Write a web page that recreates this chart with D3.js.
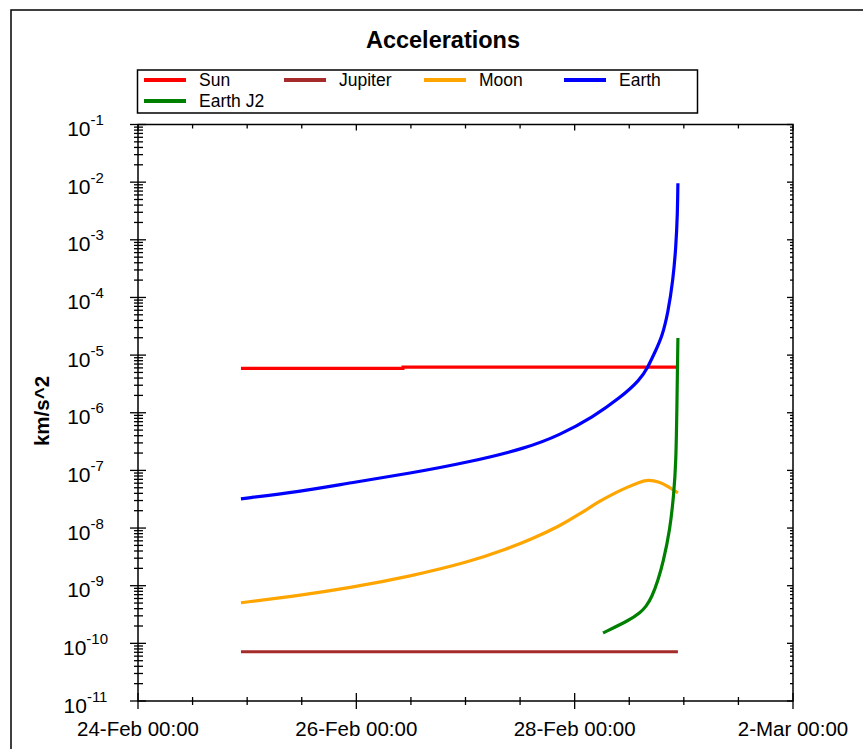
<!DOCTYPE html>
<html lang="en">
<head>
    <meta charset="UTF-8">
    <title>Accelerations</title>
    <script src="https://d3js.org/d3.v7.min.js"></script>
    <style>
        body { margin: 0; background: #fff; }
        text { font-family: "Liberation Sans", Arial, sans-serif; fill: #000; }
    </style>
</head>
<body>
    <div id="graph"></div>
    <script>
        // series names + colours (legend order)
        const seriesNames = ["Sun", "Jupiter", "Moon", "Earth", "Earth J2"]
        const seriesColors = ["#ff0000", "#a52a2a", "#ffa500", "#0000ff", "#008000"]

        // values (UTC times, km/s^2)
        const sunTimes = ["2023-02-24T22:38", "2023-02-26T10:15", "2023-02-26T10:16", "2023-02-28T22:42"]
        const sunValues = [5.9e-6, 5.9e-6, 6.2e-6, 6.2e-6]

        const jupiterTimes = ["2023-02-24T22:38", "2023-02-28T22:42"]
        const jupiterValues = [7.15e-11, 7.15e-11]

        const moonTimes = ["2023-02-24T22:38", "2023-02-25T11:37", "2023-02-25T22:36", "2023-02-26T11:48",
            "2023-02-27T00:59", "2023-02-27T09:07", "2023-02-27T14:11", "2023-02-27T20:46",
            "2023-02-28T01:10", "2023-02-28T05:34", "2023-02-28T08:52", "2023-02-28T11:30",
            "2023-02-28T14:21", "2023-02-28T16:08", "2023-02-28T18:45", "2023-02-28T20:18",
            "2023-02-28T22:42"]
        const moonValues = [5.06e-10, 6.8e-10, 9.2e-10, 1.45e-9, 2.6e-9, 4.36e-9, 6.24e-9, 1.09e-8,
            1.76e-8, 2.96e-8, 4.07e-8, 5.07e-8, 6.32e-8, 6.95e-8, 6.3e-8, 5.38e-8, 4.07e-8]

        const earthTimes = ["2023-02-24T22:38", "2023-02-25T11:37", "2023-02-25T22:36", "2023-02-26T11:48",
            "2023-02-27T00:59", "2023-02-27T13:31", "2023-02-27T20:46", "2023-02-28T04:02",
            "2023-02-28T09:58", "2023-02-28T14:21", "2023-02-28T16:08", "2023-02-28T17:39",
            "2023-02-28T19:12", "2023-02-28T20:31", "2023-02-28T21:37", "2023-02-28T22:16",
            "2023-02-28T22:36", "2023-02-28T22:41", "2023-02-28T22:42"]
        const earthValues = [3.21e-8, 4.3e-8, 6.07e-8, 8.9e-8, 1.40e-7, 2.45e-7, 4.12e-7, 8.45e-7,
            1.81e-6, 3.70e-6, 6.22e-6, 1.13e-5, 2.06e-5, 5.37e-5, 2.0e-4, 7.5e-4, 2.9e-3, 8.5e-3, 9.6e-3]

        const j2Times = ["2023-02-28T06:14", "2023-02-28T06:30", "2023-02-28T12:10", "2023-02-28T14:21",
            "2023-02-28T15:41", "2023-02-28T17:00", "2023-02-28T18:19", "2023-02-28T19:25",
            "2023-02-28T20:58", "2023-02-28T21:49", "2023-02-28T22:16", "2023-02-28T22:29",
            "2023-02-28T22:40", "2023-02-28T22:42"]
        const j2Values = [1.52e-10, 1.55e-10, 2.56e-10, 3.39e-10, 4.31e-10, 6.41e-10, 1.24e-9, 2.49e-9,
            9.3e-9, 4.07e-8, 1.35e-7, 1.26e-6, 1.4e-5, 1.98e-5]

        // axis ticks
        const xDomain = ["2023-02-24T00:00", "2023-03-02T00:00"]
        const xMajorTicks = ["2023-02-24T00:00", "2023-02-26T00:00", "2023-02-28T00:00", "2023-03-02T00:00"]
        const yExponents = [-11, -10, -9, -8, -7, -6, -5, -4, -3, -2, -1]

        const parse = s => new Date(s + "Z")
        const series = [
            {times: sunTimes, values: sunValues},
            {times: jupiterTimes, values: jupiterValues},
            {times: moonTimes, values: moonValues},
            {times: earthTimes, values: earthValues},
            {times: j2Times, values: j2Values}
        ].map((s, i) => ({
            name: seriesNames[i],
            color: seriesColors[i],
            points: s.times.map((t, k) => ({t: parse(t), v: s.values[k]}))
        }))

        const width = 863, height = 749
        const plot = {left: 138, right: 793, top: 124.5, bottom: 701}

        var svg = d3.select("#graph").append("svg")
            .attr("width", width)
            .attr("height", height)

        // outer frame
        svg.append("rect")
            .attr("x", 11).attr("y", 10)
            .attr("width", 870).attr("height", 800)
            .attr("fill", "none").attr("stroke", "#000").attr("stroke-width", 1.5)

        svg.append("text")
            .attr("x", 443).attr("y", 48)
            .attr("text-anchor", "middle")
            .style("font-size", "23.5px").style("font-weight", "bold")
            .text("Accelerations")

        var x = d3.scaleUtc()
            .domain(xDomain.map(parse))
            .range([plot.left, plot.right])

        var y = d3.scaleLog()
            .domain([Math.pow(10, yExponents[0]), Math.pow(10, yExponents[yExponents.length - 1])])
            .range([plot.bottom, plot.top])

        // data lines (flat ones straight, the rest smoothed)
        var straight = d3.line().x(d => x(d.t)).y(d => y(d.v))
        var smooth = d3.line().x(d => x(d.t)).y(d => y(d.v))
            .curve(d3.curveBasis)

        svg.append("g").selectAll("path")
            .data(series)
            .enter()
            .append("path")
                .attr("d", (d, i) => (i < 2 ? straight : smooth)(d.points))
                .attr("fill", "none")
                .attr("stroke", d => d.color)
                .attr("stroke-width", 3.2)

        // plot box
        svg.append("rect")
            .attr("x", plot.left).attr("y", plot.top)
            .attr("width", plot.right - plot.left).attr("height", plot.bottom - plot.top)
            .attr("fill", "none").attr("stroke", "#000").attr("stroke-width", 1.5)

        var ax = svg.append("g").attr("stroke", "#000").attr("stroke-width", 1.3)

        // x ticks: minor every 12h, major every 2 days
        var xMinor = d3.utcHour.every(12).range(x.domain()[0], new Date(+x.domain()[1] + 1))
        xMinor.forEach(d => {
            var major = xMajorTicks.some(m => +parse(m) === +d)
            var len = major ? 8 : 4
            ax.append("line")
                .attr("x1", x(d)).attr("x2", x(d))
                .attr("y1", plot.bottom - len).attr("y2", plot.bottom + (major ? 8 : 4))
            ax.append("line")
                .attr("x1", x(d)).attr("x2", x(d))
                .attr("y1", plot.top).attr("y2", plot.top + (major ? 6 : 4))
        })

        var fmt = d3.utcFormat("%-d-%b %H:%M")
        svg.append("g").selectAll("text")
            .data(xMajorTicks.map(parse))
            .enter()
            .append("text")
                .attr("x", d => x(d))
                .attr("y", 736)
                .attr("text-anchor", "middle")
                .style("font-size", "20.5px")
                .text(d => fmt(d))

        // y ticks: decades + 2..9 minors
        yExponents.forEach((e, i) => {
            var v = Math.pow(10, e)
            ax.append("line")
                .attr("x1", plot.left - 8).attr("x2", plot.left + 8)
                .attr("y1", y(v)).attr("y2", y(v))
            ax.append("line")
                .attr("x1", plot.right - 6).attr("x2", plot.right)
                .attr("y1", y(v)).attr("y2", y(v))
            if (i < yExponents.length - 1) {
                d3.range(2, 10).forEach(m => {
                    var mv = m * v
                    ax.append("line")
                        .attr("x1", plot.left - 4).attr("x2", plot.left + 5)
                        .attr("y1", y(mv)).attr("y2", y(mv))
                    ax.append("line")
                        .attr("x1", plot.right - 3).attr("x2", plot.right)
                        .attr("y1", y(mv)).attr("y2", y(mv))
                })
            }
        })

        var ylab = svg.append("g").selectAll("text")
            .data(yExponents)
            .enter()
            .append("text")
                .attr("x", 85.5)
                .attr("y", d => y(Math.pow(10, d)) + 11.5)
                .attr("text-anchor", "middle")
                .style("font-size", "21px")
        ylab.append("tspan").text("10")
        ylab.append("tspan")
            .attr("dy", -11)
            .style("font-size", "15px")
            .text(d => String(d))

        svg.append("text")
            .attr("transform", "translate(49,411) rotate(-90)")
            .attr("text-anchor", "middle")
            .style("font-size", "20.5px").style("font-weight", "bold")
            .text("km/s^2")

        // legend
        var legend = svg.append("g")
        legend.append("rect")
            .attr("x", 137.5).attr("y", 70)
            .attr("width", 560).attr("height", 43)
            .attr("fill", "#fff").attr("stroke", "#000").attr("stroke-width", 1.5)

        var items = legend.selectAll("g.item")
            .data(series)
            .enter()
            .append("g")
                .attr("class", "item")
                .attr("transform", (d, i) => "translate(" + (144 + (i % 4) * 140) + "," + (80 + Math.floor(i / 4) * 21) + ")")
        items.append("line")
            .attr("x1", 0).attr("x2", 42)
            .attr("stroke", d => d.color)
            .attr("stroke-width", 4)
        items.append("text")
            .attr("x", 55).attr("y", 6)
            .style("font-size", "17.5px")
            .text(d => d.name)
    </script>
</body>
</html>
